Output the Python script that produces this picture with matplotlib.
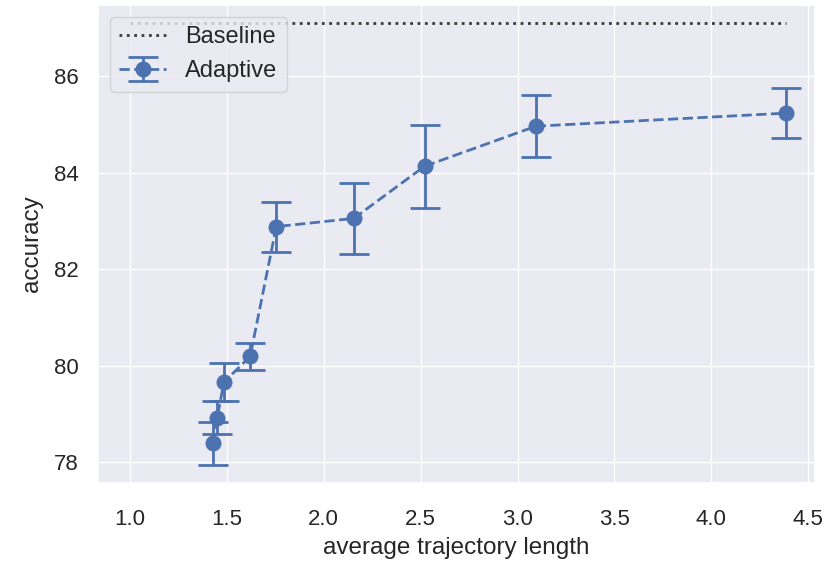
import numpy as np
import matplotlib
matplotlib.use("Agg")
import matplotlib.pyplot as plt
import seaborn as sns

sns.set_theme(style="darkgrid")
plt.rcParams["font.family"] = ["Liberation Sans", "DejaVu Sans"]

traj_len = [1.43, 1.45, 1.485, 1.62, 1.755, 2.155, 2.52, 3.095, 4.385]
accuracy = [78.39, 78.92, 79.66, 80.19, 82.88, 83.05, 84.13, 84.96, 85.23]
acc_err = [0.44, 0.34, 0.39, 0.28, 0.52, 0.73, 0.86, 0.64, 0.52]

baseline_x = [1.0, 4.385]
baseline_acc = [87.1, 87.1]

fig = plt.figure(figsize=(8.3, 5.64), dpi=100)
ax = fig.add_axes([98 / 830, 81 / 564, 717 / 830, 478 / 564])

ax.plot(baseline_x, baseline_acc, linestyle=":", color="#3a3a3a",
        linewidth=2, label="Baseline")
ax.errorbar(traj_len, accuracy, yerr=acc_err, fmt="o--", color="#4c72b0",
            linewidth=2, markersize=10.5, capsize=11, capthick=2,
            elinewidth=2, label="Adaptive")

ax.set_xlim(0.835, 4.535)
ax.set_ylim(77.57, 87.47)
ax.set_xticks([1.0, 1.5, 2.0, 2.5, 3.0, 3.5, 4.0, 4.5])
ax.set_yticks([78, 80, 82, 84, 86])
ax.tick_params(axis="x", labelsize=16, pad=13)
ax.tick_params(axis="y", labelsize=16, pad=8)
ax.set_xlabel("average trajectory length", fontsize=17.5, labelpad=5)
ax.set_ylabel("accuracy", fontsize=17.5, labelpad=8)
ax.legend(loc="upper left", fontsize=17, borderaxespad=0.5)

fig.savefig("out.png", dpi=100)
